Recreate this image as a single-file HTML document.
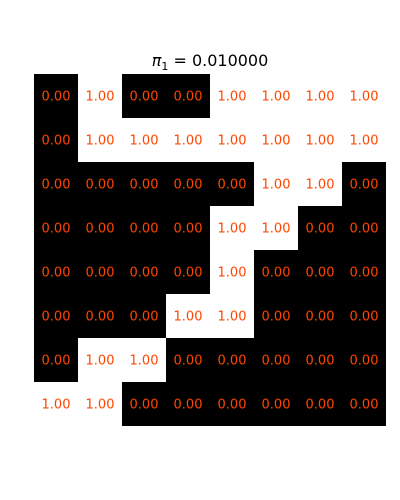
<!DOCTYPE html>
<html><head><meta charset="utf-8"><style>
body{margin:0;background:#fff;}
svg{display:block;font-family:"DejaVu Sans","Liberation Sans",sans-serif;}
</style></head><body>
<svg id="chart" width="400" height="500">
<text x="210" y="66" text-anchor="middle" font-size="16"><tspan font-style="italic">π</tspan><tspan font-size="11" dy="4">1</tspan><tspan dy="-4"> = 0.010000</tspan></text>
<g id="cells"></g>
</svg>
<script>
const rowsData = [
 [0,1,0,0,1,1,1,1],
 [0,1,1,1,1,1,1,1],
 [0,0,0,0,0,1,1,0],
 [0,0,0,0,1,1,0,0],
 [0,0,0,0,1,0,0,0],
 [0,0,0,1,1,0,0,0],
 [0,1,1,0,0,0,0,0],
 [1,1,0,0,0,0,0,0]
];
const x0=34,y0=74,cell=44;
function xPos(c){return x0+c*cell;}
function yPos(r){return y0+r*cell;}
const g=document.getElementById('cells');
const ns='http://www.w3.org/2000/svg';
rowsData.forEach((row,r)=>{row.forEach((v,c)=>{
 const rect=document.createElementNS(ns,'rect');
 rect.setAttribute('x',xPos(c));rect.setAttribute('y',yPos(r));
 rect.setAttribute('width',cell);rect.setAttribute('height',cell);
 rect.setAttribute('fill',v>=0.5?'#ffffff':'#000000');
 
 
 g.appendChild(rect);
 const t=document.createElementNS(ns,'text');
 t.setAttribute('x',xPos(c)+cell/2);t.setAttribute('y',yPos(r)+cell/2+4.5);
 t.setAttribute('text-anchor','middle');t.setAttribute('font-size','13');
 t.setAttribute('fill','#ff4500');
 t.textContent=v.toFixed(2);
 
 
 g.appendChild(t);
});});
</script>
</body></html>
